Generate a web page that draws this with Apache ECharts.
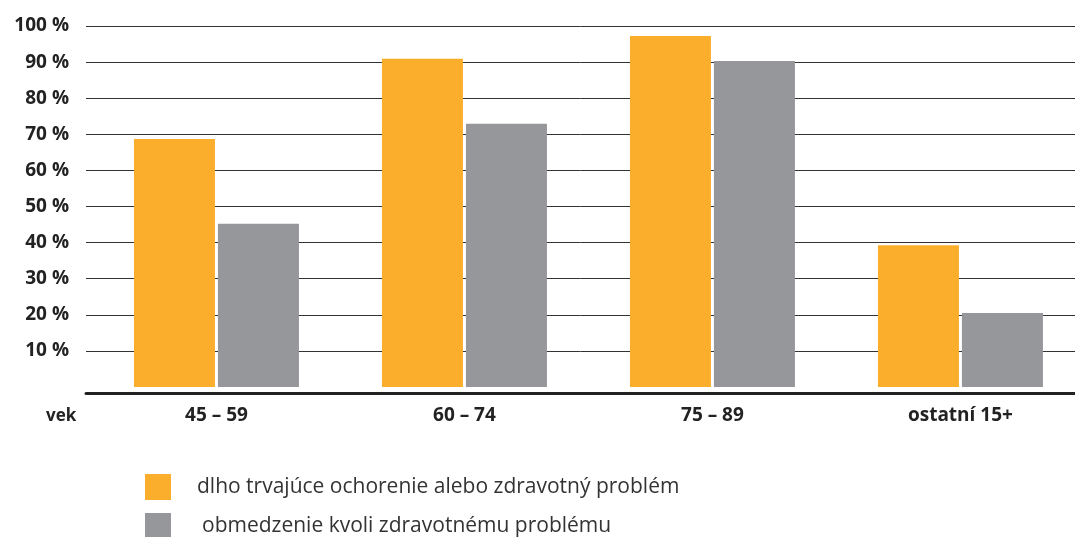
<!DOCTYPE html>
<html>
<head>
<meta charset="utf-8">
<style>
  html, body { margin: 0; padding: 0; background: #ffffff; }
  #chart { width: 1075px; height: 537px; }
</style>
<script src="https://cdn.jsdelivr.net/npm/echarts@6/dist/echarts.min.js"></script>
</head>
<body>
<div id="chart"></div>
<script>
// Age groups on the horizontal axis
const categories = ['45 – 59', '60 – 74', '75 – 89', 'ostatní 15+'];
// Share of people (%) per age group
const longTermIllness = [68.7, 90.9, 97.2, 39.3];
const healthLimitation = [45.2, 72.9, 90.3, 20.5];
const seriesNames = [
  'dlho trvajúce ochorenie alebo zdravotný problém',
  'obmedzenie kvoli zdravotnému problému'
];
// Vertical scale
const yMin = 0;
const yMax = 100;
const yStep = 10;

const ORANGE = '#fbae2c';
const GREY = '#96979b';
const FONT = '"Open Sans", "Noto Sans", sans-serif';

// Category slots sit on a numeric x axis so the plot frame can run past the
// last group; the visible range is given in slot units.
const slotIndex = categories.map((_, i) => i);
const xRange = [-0.526, 3.462];

const chart = echarts.init(document.getElementById('chart'), null, { renderer: 'canvas' });

chart.setOption({
  animation: false,
  backgroundColor: '#ffffff',
  title: {
    text: 'vek',
    left: 41,
    top: 403,
    textStyle: { fontFamily: FONT, fontWeight: 'bold', fontSize: 17, color: '#222' }
  },
  legend: {
    orient: 'vertical',
    left: 140,
    top: 469,
    height: 90,
    itemWidth: 26,
    itemHeight: 26,
    itemGap: 13,
    icon: 'rect',
    selectedMode: false,
    textStyle: { fontFamily: FONT, fontSize: 21, lineHeight: 26, color: '#333' },
    data: [
      { name: seriesNames[0], textStyle: { padding: [0, 0, 0, 21] } },
      { name: seriesNames[1], textStyle: { padding: [0, 0, 0, 26] } }
    ]
  },
  grid: { left: 86, right: 0, top: 26, height: 361 },
  xAxis: {
    type: 'value',
    min: xRange[0],
    max: xRange[1],
    offset: 6,
    axisLine: { show: true, onZero: false, lineStyle: { color: '#222', width: 3 } },
    axisTick: { show: false },
    splitLine: { show: false },
    axisLabel: {
      customValues: slotIndex,
      formatter: (v) => categories[Math.round(v)],
      margin: 13,
      fontFamily: FONT,
      fontWeight: 'bold',
      fontSize: 19,
      color: '#222'
    }
  },
  yAxis: {
    type: 'value',
    min: yMin,
    max: yMax,
    interval: yStep,
    axisLine: { show: false },
    axisTick: { show: false },
    axisLabel: {
      margin: 17,
      fontFamily: FONT,
      fontWeight: 'bold',
      fontSize: 19,
      color: '#222',
      showMinLabel: false,
      formatter: '{value} %'
    },
    splitLine: {
      show: true,
      showMinLine: false,
      lineStyle: { color: '#333', width: 1 }
    }
  },
  series: [
    {
      name: seriesNames[0],
      type: 'bar',
      data: slotIndex.map((i) => [i, longTermIllness[i]]),
      barWidth: 81,
      barGap: '3.7%',
      itemStyle: { color: ORANGE }
    },
    {
      name: seriesNames[1],
      type: 'bar',
      data: slotIndex.map((i) => [i, healthLimitation[i]]),
      barWidth: 81,
      barGap: '3.7%',
      itemStyle: { color: GREY }
    }
  ]
});
</script>
</body>
</html>
